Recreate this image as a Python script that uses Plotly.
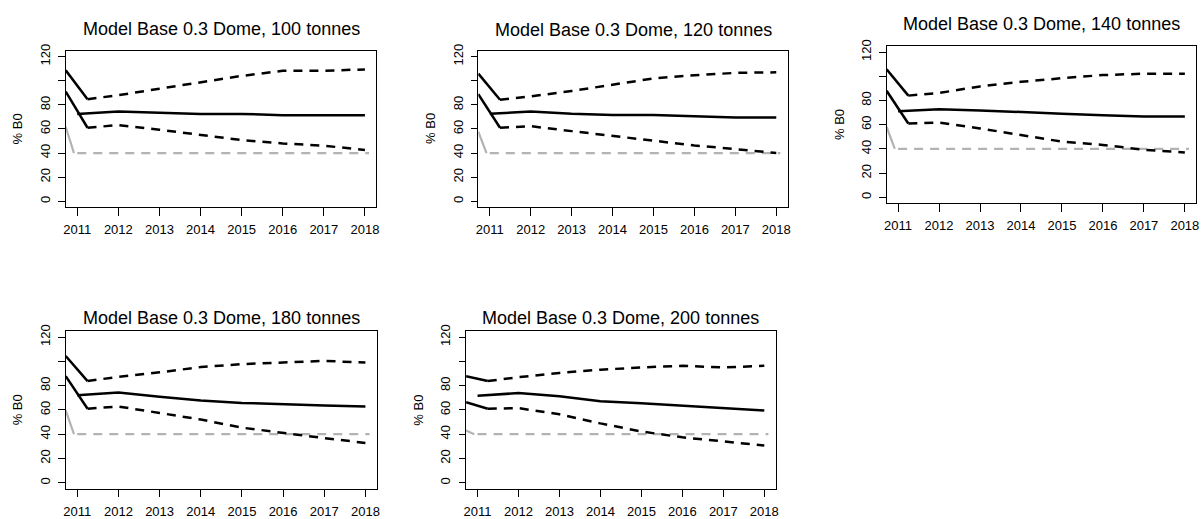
import plotly.graph_objects as go

# Catch scenarios, one panel each
catches = [100, 120, 140, 180, 200]

# Projection years (bands start a quarter-year into 2011, the median at 2011)
proj_years = [2011.25, 2012, 2013, 2014, 2015, 2016, 2017, 2018]
median_years = [2011, 2012, 2013, 2014, 2015, 2016, 2017, 2018]
hist_years = [2010.72, 2011.25]
ref_hist_years = [2010.72, 2010.92]
ref_years = [2011.0, 2018.1]
target_pct = 40

# Spawning biomass as % B0: upper, median and lower of the projections
upper_100 = [84.7, 88.0, 93.4, 98.8, 104.0, 108.3, 108.3, 109.4]
median_100 = [72.5, 74.4, 73.5, 72.5, 72.5, 71.4, 71.4, 71.4]
lower_100 = [61.0, 63.2, 59.4, 54.8, 50.8, 48.0, 46.1, 42.6]

upper_120 = [84.2, 87.0, 91.5, 97.0, 101.9, 104.6, 106.5, 107.0]
median_120 = [72.6, 74.5, 72.6, 71.6, 71.6, 70.7, 69.6, 69.6]
lower_120 = [61.0, 62.3, 58.2, 54.2, 50.1, 46.3, 43.3, 40.1]

upper_140 = [84.0, 86.2, 91.6, 95.4, 98.4, 101.0, 102.1, 102.1]
median_140 = [71.0, 72.8, 71.8, 70.2, 69.1, 67.7, 66.7, 66.7]
lower_140 = [61.0, 61.8, 56.9, 51.5, 46.0, 43.3, 39.3, 37.1]

upper_180 = [83.8, 87.3, 91.0, 95.3, 97.8, 99.1, 100.4, 99.1]
median_180 = [72.2, 74.4, 70.9, 67.7, 65.8, 64.4, 63.6, 62.8]
lower_180 = [61.0, 62.8, 57.5, 52.1, 45.4, 40.8, 36.8, 32.8]

upper_200 = [83.8, 87.0, 90.5, 93.2, 95.0, 96.4, 95.0, 96.4]
median_200 = [71.7, 73.9, 71.2, 67.2, 65.6, 63.6, 61.8, 59.6]
lower_200 = [61.0, 61.5, 56.4, 48.9, 42.2, 37.4, 34.1, 30.6]

# Values at the left edge of the historical segments
upper_hist_start = [108.6, 105.9, 105.7, 104.5, 87.8]
lower_hist_start = [91.0, 88.9, 88.0, 87.8, 66.4]
ref_hist_start = [61.6, 57.7, 58.2, 59.6, 43.0]

upper_sets = [upper_100, upper_120, upper_140, upper_180, upper_200]
median_sets = [median_100, median_120, median_140, median_180, median_200]
lower_sets = [lower_100, lower_120, lower_140, lower_180, lower_200]

y_ticks = [0, 20, 40, 60, 80, 100, 120]
y_tick_text = ["0", "20", "40", "60", "80", "", "120"]
x_ticks = [2011, 2012, 2013, 2014, 2015, 2016, 2017, 2018]

W, H = 1204, 519
# plot boxes in pixels: left, right, top, bottom, title centre
boxes = [
    (64, 376, 44.7, 204, 22.5),
    (478.3, 789, 44.7, 204, 23.0),
    (888.3, 1199.3, 40, 200, 17.5),
    (64, 376.5, 330.7, 491, 317.5),
    (466, 777, 330.7, 491, 317.5),
]

FONT = "Liberation Sans, Arial, Helvetica, sans-serif"
BLACK = "#000000"
GREY = "#b3b3b3"
DASH = "9px,7px"
TICK_SIZE = 13

fig = go.Figure()
layout = dict(
    width=W, height=H,
    margin=dict(l=0, r=0, t=0, b=0),
    paper_bgcolor="white", plot_bgcolor="white",
    showlegend=False,
    font=dict(family=FONT, color=BLACK, size=TICK_SIZE),
    annotations=[],
)

for i, catch in enumerate(catches):
    n = "" if i == 0 else str(i + 1)
    xa, ya = "x" + n, "y" + n
    left, right, top, bottom, title_y = boxes[i]

    def add(x, y, color, dash, width=2.5):
        fig.add_trace(go.Scatter(
            x=x, y=y, mode="lines", xaxis=xa, yaxis=ya,
            line=dict(color=color, width=width, dash=dash),
            hoverinfo="skip",
        ))

    # reference level at 40% B0
    add(ref_hist_years, [ref_hist_start[i], target_pct], GREY, "solid", 2.2)
    add(ref_years, [target_pct, target_pct], GREY, DASH, 2.2)
    # historical lead-in for the bands
    add(hist_years, [upper_hist_start[i], upper_sets[i][0]], BLACK, "solid")
    add(hist_years, [lower_hist_start[i], lower_sets[i][0]], BLACK, "solid")
    # projections
    add(proj_years, upper_sets[i], BLACK, DASH)
    add(proj_years, lower_sets[i], BLACK, DASH)
    add(median_years, median_sets[i], BLACK, "solid")

    axis_common = dict(
        showline=True, mirror=True, linecolor=BLACK, linewidth=1,
        showgrid=False, zeroline=False, ticks="outside", tickcolor=BLACK,
        tickwidth=1, tickfont=dict(family=FONT, size=TICK_SIZE, color=BLACK),
    )
    layout["xaxis" + n] = dict(
        axis_common, domain=[left / W, right / W], anchor=ya,
        range=[2010.72, 2018.28], tickvals=x_ticks,
        ticktext=[str(v) for v in x_ticks], ticklen=7.5,
        ticklabelstandoff=3,
    )
    layout["yaxis" + n] = dict(
        axis_common, domain=[1 - bottom / H, 1 - top / H], anchor=xa,
        range=[-4.8, 124.8], tickvals=y_ticks, ticktext=y_tick_text,
        tickangle=-90, ticklen=6.5, ticklabelstandoff=3,
    )

    layout["annotations"].append(dict(
        text=f"Model Base 0.3 Dome, {catch} tonnes",
        xref="paper", yref="paper", x=(left + right) / 2 / W,
        y=1 - title_y / H, xanchor="center", yanchor="middle",
        showarrow=False, font=dict(family=FONT, size=18, color=BLACK),
    ))
    layout["annotations"].append(dict(
        text="% B0", textangle=-90,
        xref="paper", yref="paper", x=(left - 47.5) / W,
        y=1 - (top + bottom) / 2 / H, xanchor="center", yanchor="middle",
        showarrow=False, font=dict(family=FONT, size=TICK_SIZE, color=BLACK),
    ))

fig.update_layout(**layout)
fig.write_html("out.html")
